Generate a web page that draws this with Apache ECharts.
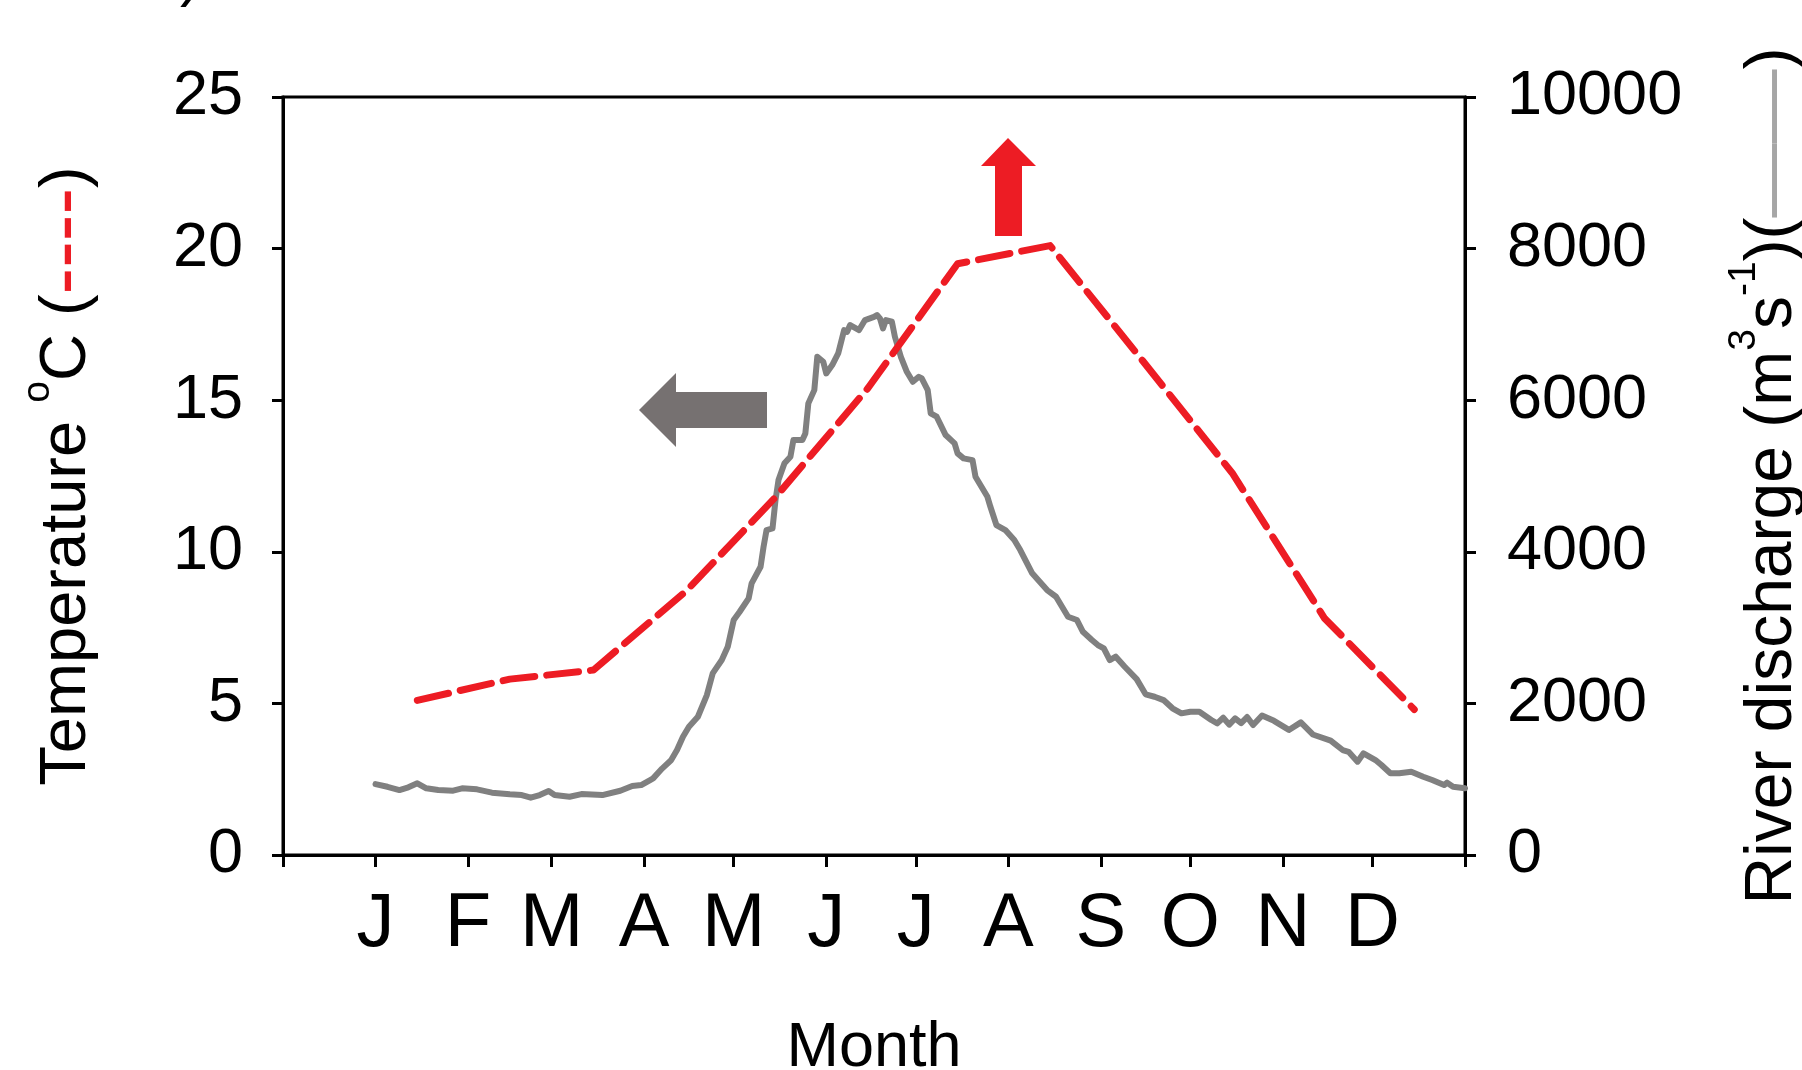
<!DOCTYPE html>
<html>
<head>
<meta charset="utf-8">
<script src="https://cdn.jsdelivr.net/npm/echarts@6/dist/echarts.min.js"></script>
<style>
  html, body { margin: 0; padding: 0; background: #fff; }
  #chart { width: 1802px; height: 1070px; }
</style>
</head>
<body>
<div id="chart"></div>
<script>
// Day-of-year axis (Jan 1 = 0); the axis starts at Dec 1 of the year before.
const monthLetters = ['J', 'F', 'M', 'A', 'M', 'J', 'J', 'A', 'S', 'O', 'N', 'D'];
const monthStartDays = [0, 31, 59, 90, 120, 151, 181, 212, 243, 273, 304, 334];
const axisTickDays = [-31, 0, 31, 59, 90, 120, 151, 181, 212, 243, 273, 304, 334, 365];

// Monthly mean water temperature (°C), plotted at mid-month
const tempDays = [14, 45, 73, 104, 134, 165, 195, 226, 257, 287, 318, 348];
const tempValues = [5.1, 5.8, 6.1, 8.7, 11.8, 15.4, 19.5, 20.1, 16.3, 12.6, 7.8, 4.8];

// Daily river discharge (m3/s)
const dischargeDays = [
  0, 4, 8, 11, 14, 17, 21, 26, 29, 34, 39, 45, 49, 52, 55, 58, 60, 65, 69, 76,
  82, 86, 89, 92, 93, 96, 99, 101, 103, 105, 108, 111, 113, 116, 118, 120, 122, 125, 126, 129,
  130, 131, 133, 134, 135, 137, 139, 140, 143, 144, 145, 147, 148, 150, 151, 153, 155, 157, 158, 159,
  162, 164, 167, 168, 169, 170, 171, 173, 174, 176, 178, 180, 182, 183, 185, 186, 188, 191, 194, 195,
  197, 200, 201, 205, 206, 208, 211, 214, 216, 220, 222, 225, 228, 230, 232, 235, 237, 240, 242, 244,
  246, 248, 251, 255, 258, 261, 264, 267, 270, 273, 276, 280, 282, 284, 286, 288, 290, 292, 294, 297,
  301, 306, 310, 314, 320, 324, 326, 329, 331, 335, 337, 340, 343, 347, 351, 354, 358, 359, 361, 365
];
const dischargeValues = [
  936, 900, 857, 893, 946, 880, 857, 848, 880, 866, 822, 800, 791, 756, 791, 844, 791, 769, 804, 791,
  848, 910, 923, 989, 1011, 1140, 1250, 1385, 1560, 1692, 1824, 2110, 2400, 2572, 2747, 3100, 3209, 3386, 3584, 3803,
  4067, 4287, 4309, 4682, 4946, 5167, 5254, 5474, 5474, 5562, 5958, 6133, 6573, 6507, 6353, 6463, 6617, 6925, 6902, 6991,
  6925, 7057, 7100, 7123, 7079, 6947, 7057, 7035, 6837, 6573, 6375, 6243, 6309, 6287, 6133, 5826, 5782, 5540, 5430, 5298,
  5232, 5210, 4990, 4726, 4594, 4353, 4287, 4155, 4023, 3716, 3627, 3495, 3407, 3275, 3143, 3100, 2945, 2836, 2770, 2726,
  2572, 2616, 2484, 2320, 2120, 2088, 2044, 1935, 1869, 1890, 1890, 1781, 1737, 1810, 1720, 1803, 1740, 1820, 1715, 1840,
  1770, 1650, 1750, 1590, 1510, 1385, 1362, 1231, 1341, 1253, 1187, 1078, 1078, 1099, 1033, 989, 923, 954, 901, 880
];

const FONT = '"Liberation Sans", Arial, sans-serif';
const RED = '#ED1C24';
const GREY = '#808080';

const chart = echarts.init(document.getElementById('chart'), null, { renderer: 'canvas' });

const axisLine = { show: true, onZero: false, lineStyle: { color: '#000', width: 3 } };
const axisTick = { show: true, inside: false, length: 11, lineStyle: { color: '#000', width: 3 } };

// rich styles for the rotated axis titles (superscripts + line-style keys)
function nameRich(size) {
  return {
    t: { fontSize: size, lineHeight: 96, fontFamily: FONT, color: '#000' },
    s: { fontSize: 39, lineHeight: 39, padding: [0, 0, 57, 0], fontFamily: FONT, color: '#000' },
    r: { fontSize: 80, lineHeight: 96, fontFamily: FONT, color: RED },
    g: { fontSize: 74, lineHeight: 96, fontFamily: FONT, color: '#a6a6a6' }
  };
}

chart.setOption({
  animation: false,
  backgroundColor: '#fff',
  textStyle: { fontFamily: FONT, color: '#000' },
  grid: {
    left: 283, right: 337, top: 97, bottom: 215,
    show: true, borderColor: '#000', borderWidth: 3,
    outerBoundsMode: 'none'
  },
  xAxis: {
    type: 'value',
    min: -31, max: 365,
    axisLine,
    axisTick: { ...axisTick, length: 12, customValues: axisTickDays },
    axisLabel: {
      customValues: monthStartDays,
      formatter: (v) => monthLetters[monthStartDays.indexOf(v)] || '',
      fontSize: 76, color: '#000', margin: 32, fontFamily: FONT
    },
    splitLine: { show: false },
    name: 'Month',
    nameLocation: 'middle',
    nameGap: 162,
    nameTextStyle: { fontSize: 63, color: '#000', fontFamily: FONT }
  },
  yAxis: [
    {
      type: 'value', position: 'left',
      min: 0, max: 25, interval: 5,
      axisLine, axisTick,
      axisLabel: { fontSize: 63, color: '#000', margin: 40, fontFamily: FONT },
      splitLine: { show: false },
      name: '{t|Temperature }{s|o}{t|C (}{r|----}{t|)}',
      nameLocation: 'middle', nameRotate: 90, nameGap: 168,
      nameTextStyle: { rich: nameRich(65) }
    },
    {
      type: 'value', position: 'right',
      min: 0, max: 10000, interval: 2000,
      axisLine, axisTick,
      axisLabel: {
        fontSize: 63, color: '#000', margin: 42, fontFamily: FONT,
        formatter: (v) => String(v)
      },
      splitLine: { show: false },
      name: '{t|River discharge (m}{s|3}{t|s}{s|-1}{t|)(}{g|——}{t|)}',
      nameLocation: 'middle', nameRotate: 90, nameGap: 260,
      nameTextStyle: { rich: nameRich(66) }
    }
  ],
  series: [
    {
      name: 'River discharge',
      type: 'line',
      yAxisIndex: 1,
      data: dischargeDays.map((d, i) => [d, dischargeValues[i]]),
      symbol: 'none',
      lineStyle: { color: GREY, width: 6, join: 'round', cap: 'round' },
      z: 2
    },
    {
      name: 'Temperature',
      type: 'line',
      yAxisIndex: 0,
      data: tempDays.map((d, i) => [d, tempValues[i]]),
      symbol: 'none',
      lineStyle: { color: RED, width: 7, type: [32, 12], cap: 'round', join: 'round' },
      z: 3
    }
  ],
  graphic: [
    // annotation arrows
    {
      type: 'polygon',
      shape: { points: [[639, 410], [676, 373], [676, 392], [767, 392], [767, 428], [676, 428], [676, 447]] },
      style: { fill: '#767171' }
    },
    {
      type: 'polygon',
      shape: { points: [[1008, 138], [1036, 166], [1022, 166], [1022, 236], [995, 236], [995, 166], [981, 166]] },
      style: { fill: RED }
    },
    // panel label, mostly cropped off the top
    {
      type: 'text',
      x: 201, y: 8,
      style: { text: 'b)', font: '63px ' + FONT, fill: '#000', align: 'right', verticalAlign: 'bottom' }
    }
  ]
});
</script>
</body>
</html>
